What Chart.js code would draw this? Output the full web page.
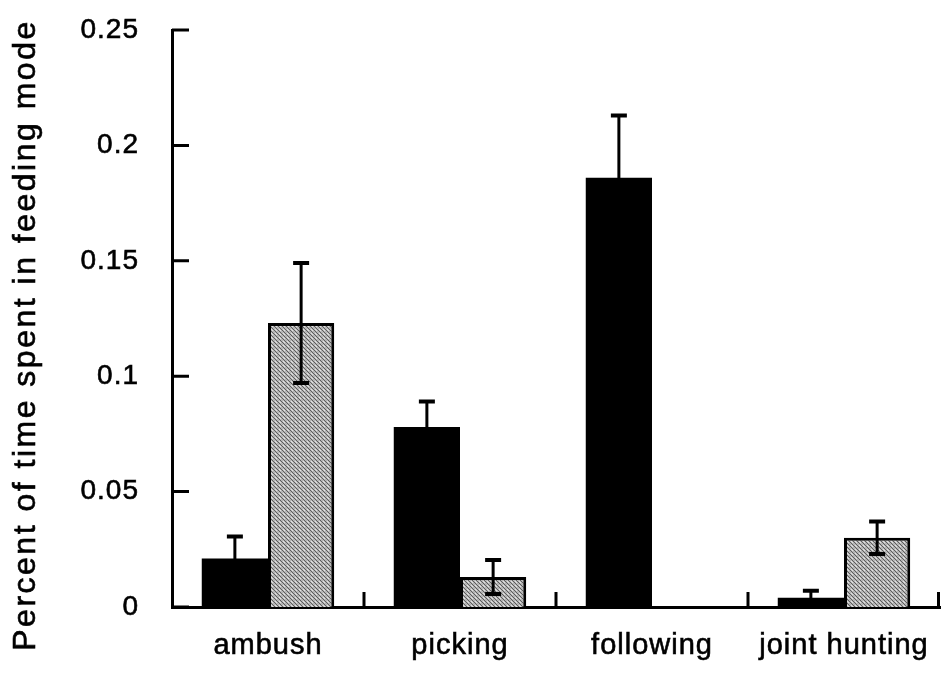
<!DOCTYPE html>
<html>
<head>
<meta charset="utf-8">
<title>Feeding mode</title>
<script src="https://cdn.jsdelivr.net/npm/chart.js@4.4.1/dist/chart.umd.min.js"></script>
<style>
    html, body { margin: 0; padding: 0; background: #fff; }
    #wrap { width: 943px; height: 673px; }
</style>
</head>
<body>
<div id="wrap"><canvas id="feedingChart"></canvas></div>
<script>
// Data
const categories = ['ambush', 'picking', 'following', 'joint hunting'];
const blackValues = [0.021, 0.078, 0.186, 0.004];
const blackErrors = [0.0095, 0.011, 0.027, 0.003];
const grayValues = [0.123, 0.013, 0, 0.030];
const grayErrors = [0.026, 0.0074, 0, 0.007];
const yTicks = [0, 0.05, 0.1, 0.15, 0.2, 0.25];
const yTitle = 'Percent of time spent in feeding mode';

const FONT = '"Liberation Sans", Arial, Helvetica, sans-serif';

// Grey stipple with diagonal hatching for the second series
function makeStipple() {
    const c = document.createElement('canvas');
    c.width = 4;
    c.height = 4;
    const g = c.getContext('2d');
    g.fillStyle = '#b6b6b6';
    g.fillRect(0, 0, 4, 4);
    g.fillStyle = '#5c5c5c';
    for (let k = 0; k < 4; k++) {
        g.fillRect(k, k, 1, 1);
    }
    g.fillStyle = '#e2e2e2';
    g.fillRect(3, 1, 1, 1);
    g.fillRect(0, 2, 1, 1);
    return g.createPattern(c, 'repeat');
}

// Error bars drawn on top of the bars
const errorBars = {
    id: 'errorBars',
    afterDatasetsDraw(chart) {
        const ctx = chart.ctx;
        const yScale = chart.scales.y;
        const errors = [blackErrors, grayErrors];
        ctx.save();
        ctx.strokeStyle = '#000';
        chart.data.datasets.forEach((ds, d) => {
            const meta = chart.getDatasetMeta(d);
            meta.data.forEach((bar, i) => {
                const err = errors[d][i];
                if (!err) return;
                const v = ds.data[i];
                const yTop = yScale.getPixelForValue(v + err);
                const yBot = yScale.getPixelForValue(Math.max(0, v - err));
                const x = bar.x;
                ctx.lineWidth = 3;
                ctx.beginPath();
                ctx.moveTo(x, yTop);
                ctx.lineTo(x, yBot);
                ctx.stroke();
                ctx.lineWidth = 4;
                ctx.beginPath();
                ctx.moveTo(x - 8, yTop);
                ctx.lineTo(x + 8, yTop);
                ctx.moveTo(x - 8, yBot);
                ctx.lineTo(x + 8, yBot);
                ctx.stroke();
            });
        });
        ctx.restore();
    }
};

// Tick marks pointing into the plot, plus the rotated y title
const axisExtras = {
    id: 'axisExtras',
    afterDraw(chart) {
        const ctx = chart.ctx;
        const area = chart.chartArea;
        const yScale = chart.scales.y;
        ctx.save();
        ctx.strokeStyle = '#000';
        ctx.lineWidth = 3;
        ctx.beginPath();
        yTicks.forEach(t => {
            const y = yScale.getPixelForValue(t);
            ctx.moveTo(area.left, y);
            ctx.lineTo(area.left + 17, y);
        });
        const step = (area.right - area.left) / categories.length;
        for (let i = 1; i <= categories.length; i++) {
            const x = area.left + step * i - (i === categories.length ? 1.5 : 0);
            ctx.moveTo(x, area.bottom);
            ctx.lineTo(x, area.bottom - 15);
        }
        ctx.stroke();

        ctx.translate(35, 335);
        ctx.rotate(-Math.PI / 2);
        ctx.font = '32px ' + FONT;
        ctx.letterSpacing = '2.5px';
        ctx.textAlign = 'center';
        ctx.textBaseline = 'alphabetic';
        ctx.fillStyle = '#000';
        ctx.strokeStyle = '#000';
        ctx.lineWidth = 0.6;
        ctx.fillText(yTitle, 0, 0);
        ctx.strokeText(yTitle, 0, 0);
        ctx.restore();
    }
};

// Slight letter spacing for the tick text
const spacing = {
    id: 'spacing',
    beforeDraw(chart) {
        chart.ctx.letterSpacing = '1px';
    }
};

const ctx = document.getElementById('feedingChart').getContext('2d');
const feedingChart = new Chart(ctx, {
    type: 'bar',
    data: {
        labels: categories,
        datasets: [{
            data: blackValues,
            backgroundColor: '#000',
            borderWidth: 0
        }, {
            data: grayValues,
            backgroundColor: makeStipple(),
            borderColor: '#000',
            borderWidth: 3,
            borderSkipped: 'bottom'
        }]
    },
    options: {
        responsive: true,
        maintainAspectRatio: false,
        animation: false,
        devicePixelRatio: 1,
        layout: {
            padding: { top: 30, right: 3, left: 0, bottom: 0 }
        },
        datasets: {
            bar: {
                categoryPercentage: 0.69,
                barPercentage: 1.0
            }
        },
        plugins: {
            legend: { display: false },
            tooltip: { enabled: false }
        },
        scales: {
            x: {
                grid: { display: false, drawTicks: false },
                border: { color: '#000', width: 3 },
                ticks: {
                    color: '#000',
                    padding: 22,
                    font: { family: FONT, size: 29 },
                    textStrokeColor: '#000',
                    textStrokeWidth: 0.6
                },
                afterFit(scale) {
                    scale.height = 66;
                    scale.paddingLeft = 0;
                    scale.paddingRight = 0;
                }
            },
            y: {
                min: 0,
                max: 0.25,
                afterBuildTicks(scale) {
                    scale.ticks = yTicks.map(v => ({ value: v }));
                },
                grid: { display: false, drawTicks: false },
                border: { color: '#000', width: 3 },
                ticks: {
                    color: '#000',
                    padding: 33,
                    font: { family: FONT, size: 28 },
                    textStrokeColor: '#000',
                    textStrokeWidth: 0.6,
                    callback: v => String(v)
                },
                afterFit(scale) {
                    scale.width = 172;
                    scale.paddingTop = 0;
                    scale.paddingBottom = 0;
                }
            }
        }
    },
    plugins: [spacing, errorBars, axisExtras]
});
</script>
</body>
</html>
